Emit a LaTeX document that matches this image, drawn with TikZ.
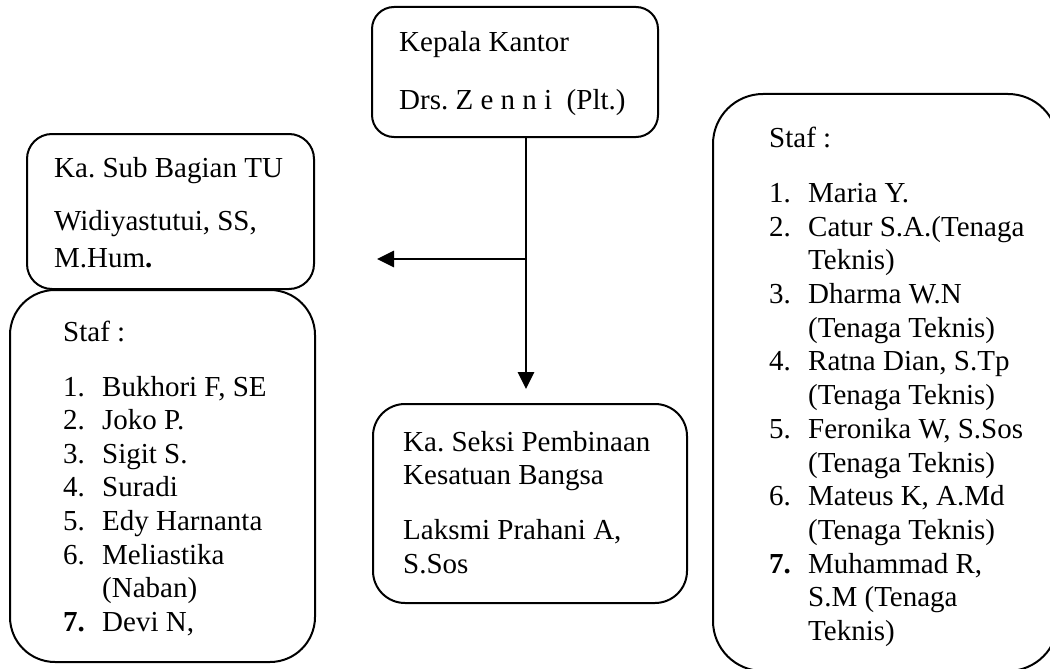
\documentclass[tikz,border=0pt]{standalone}
\usepackage{fontspec}
\setmainfont{Liberation Serif}
\usetikzlibrary{arrows.meta}
\newcommand\lnum[1]{\makebox[39pt][l]{#1}}
\frenchspacing
\begin{document}
\begin{tikzpicture}[x=1pt,y=-1pt,
  box/.style={draw=black,line width=2pt,rectangle,inner sep=0pt},
  txt/.style={anchor=base west,inner sep=0pt,font=\fontsize{29}{33}\selectfont},
  conn/.style={line width=2.6pt},
  arr/.style={line width=2.8pt,-{Triangle[length=17pt,width=16pt]}}]
\useasboundingbox (0,0) rectangle (1050,669);
% boxes
\node[box,rounded corners=22pt,minimum width=286pt,minimum height=130pt] (top) at (515,72) {};
\node[box,rounded corners=25pt,minimum width=287pt,minimum height=155pt] (tu) at (170.5,211.5) {};
\node[box,rounded corners=45pt,minimum width=305pt,minimum height=372pt] (lstaf) at (162.5,476) {};
\node[box,rounded corners=32pt,minimum width=314pt,minimum height=199pt] (seksi) at (530,503.5) {};
\node[box,rounded corners=50pt,minimum width=345pt,minimum height=577pt] (rstaf) at (885.5,382.5) {};
% connectors
\coordinate (j) at (526,259);
\coordinate (tipL) at (377,259);
\coordinate (tipD) at (526,389);
\draw[conn] (top.south -| j) -- (j);
\draw[arr] (j) -- (tipL);
\draw[arr] (j) -- (tipD);
% top box text
\node[txt] (t1) at (399,52) {Kepala Kantor};
\node[txt] (t2) at (399,110) {Drs. Z e n n i \ (Plt.)};
% TU box text
\node[txt] (u1) at (54,177) {Ka. Sub Bagian TU};
\node[txt] (u2) at (54,230) {Widiyastutui, SS,};
\node[txt] (u3) at (54,267) {M.Hum\textbf{.}};
% left staff
\node[txt] (ls) at (63,341) {Staf :};
\node[txt] (l1) at (63,396) {\lnum{1.}Bukhori F, SE};
\node[txt] (l2) at (63,429) {\lnum{2.}Joko P.};
\node[txt] (l3) at (63,463) {\lnum{3.}Sigit S.};
\node[txt] (l4) at (63,496) {\lnum{4.}Suradi};
\node[txt] (l5) at (63,530) {\lnum{5.}Edy Harnanta};
\node[txt] (l6) at (63,564) {\lnum{6.}Meliastika};
\node[txt] (l6b) at (102,597) {(Naban)};
\node[txt] (l7) at (63,631) {\lnum{\textbf{7.}}Devi N,};
% seksi box text
\node[txt] (s1) at (403,451) {Ka. Seksi Pembinaan};
\node[txt] (s2) at (403,484) {Kesatuan Bangsa};
\node[txt] (s3) at (403,539) {Laksmi Prahani A,};
\node[txt] (s4) at (403,573) {S.Sos};
% right staff
\node[txt] (rs) at (769,147) {Staf :};
\node[txt] (r1) at (769,202) {\lnum{1.}Maria Y.};
\node[txt] (r2) at (769,236) {\lnum{2.}Catur S.A.(Tenaga};
\node[txt] (r2b) at (808,269) {Teknis)};
\node[txt] (r3) at (769,303) {\lnum{3.}Dharma W.N};
\node[txt] (r3b) at (808,337) {(Tenaga Teknis)};
\node[txt] (r4) at (769,370) {\lnum{4.}Ratna Dian, S.Tp};
\node[txt] (r4b) at (808,404) {(Tenaga Teknis)};
\node[txt] (r5) at (769,438) {\lnum{5.}Feronika W, S.Sos};
\node[txt] (r5b) at (808,472) {(Tenaga Teknis)};
\node[txt] (r6) at (769,505) {\lnum{6.}Mateus K, A.Md};
\node[txt] (r6b) at (808,539) {(Tenaga Teknis)};
\node[txt] (r7) at (769,573) {\lnum{\textbf{7.}}Muhammad R,};
\node[txt] (r7b) at (808,606) {S.M (Tenaga};
\node[txt] (r7c) at (808,640) {Teknis)};
\end{tikzpicture}
\end{document}
